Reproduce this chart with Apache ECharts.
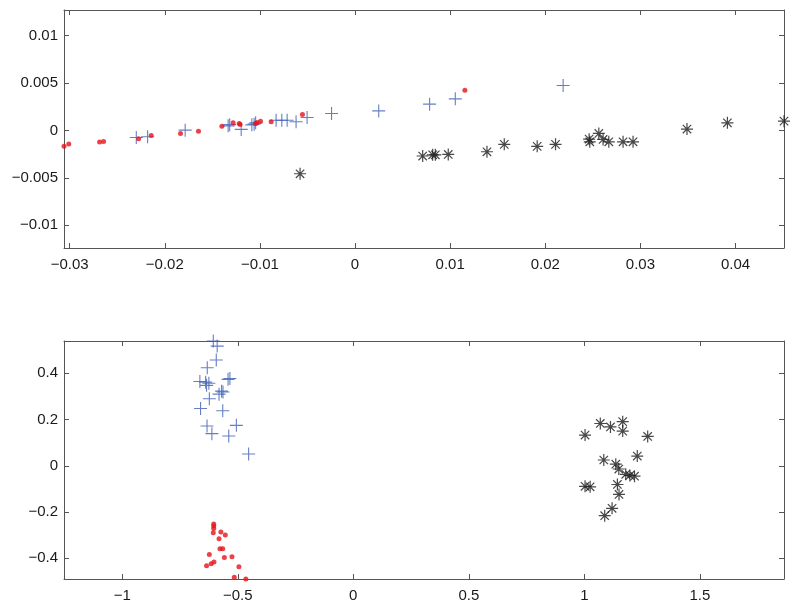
<!DOCTYPE html>
<html><head><meta charset="utf-8">
<script src="https://cdn.jsdelivr.net/npm/echarts@6/dist/echarts.min.js"></script>
<style>html,body{margin:0;padding:0;background:#fff}#c{width:800px;height:610px}</style>
</head><body><div id="c"></div>
<script>
// ---- Top panel data ----
const topRed = [[-0.0306,-0.00166],[-0.0301,-0.00144],[-0.02686,-0.00123],[-0.02644,-0.00116],[-0.02276,-0.00088],[-0.02143,-0.00053],[-0.01835,-0.00032],[-0.01646,-0.0001],[-0.0140,0.00045],[-0.01282,0.0008],[-0.01218,0.00074],[-0.01208,0.00063],[-0.01047,0.00074],[-0.0103,0.00084],[-0.00994,0.00098],[-0.00882,0.00091],[-0.00553,0.00168],[0.01155,0.00424]];
const topBlue = [[-0.0230,-0.00074],[-0.02181,-0.00067],[-0.01786,0.00003],[-0.01334,0.00048],[-0.01318,0.00061],[-0.01197,0.00011],[-0.01085,0.00059],[-0.01061,0.00066],[-0.01045,0.0008],[-0.0083,0.00108],[-0.0077,0.00108],[-0.00714,0.00108],[-0.0062,0.00091],[-0.00504,0.00137],[-0.00247,0.00179],[0.00249,0.00206],[0.00784,0.00277],[0.01054,0.00333],[0.02188,0.00474]];
const topBlack = [[-0.00578,-0.00457],[0.00711,-0.0027],[0.00816,-0.00257],[0.00844,-0.00257],[0.0098,-0.00253],[0.01387,-0.00225],[0.01569,-0.00147],[0.01915,-0.00168],[0.02108,-0.00147],[0.02461,-0.00092],[0.02468,-0.0012],[0.02563,-0.00032],[0.02608,-0.00095],[0.02668,-0.0012],[0.02818,-0.0012],[0.02923,-0.0012],[0.0349,0.00014],[0.03915,0.0008],[0.0451,0.00098]];
const topXTicks = [-0.03,-0.02,-0.01,0,0.01,0.02,0.03,0.04];
const topYTicks = [-0.01,-0.005,0,0.005,0.01];
const topXRange = [-0.0306, 0.0451];
const topYRange = [-0.0124, 0.0127];

// ---- Bottom panel data ----
const botBlue = [[-0.606,0.540],[-0.589,0.518],[-0.593,0.458],[-0.632,0.424],[-0.664,0.365],[-0.639,0.362],[-0.625,0.357],[-0.635,0.348],[-0.542,0.374],[-0.534,0.378],[-0.570,0.323],[-0.564,0.319],[-0.581,0.310],[-0.623,0.290],[-0.661,0.248],[-0.565,0.238],[-0.633,0.172],[-0.612,0.139],[-0.506,0.175],[-0.539,0.129],[-0.453,0.051]];
const botRed = [[-0.604,-0.252],[-0.604,-0.261],[-0.604,-0.271],[-0.606,-0.290],[-0.573,-0.287],[-0.554,-0.300],[-0.581,-0.316],[-0.577,-0.359],[-0.565,-0.359],[-0.623,-0.384],[-0.558,-0.397],[-0.525,-0.394],[-0.635,-0.433],[-0.615,-0.424],[-0.603,-0.416],[-0.495,-0.437],[-0.515,-0.482],[-0.465,-0.490]];
const botBlack = [[1.003,0.133],[1.069,0.183],[1.113,0.168],[1.166,0.191],[1.166,0.150],[1.274,0.127],[1.229,0.042],[1.084,0.025],[1.136,0.007],[1.149,-0.014],[1.179,-0.037],[1.197,-0.042],[1.217,-0.045],[1.003,-0.089],[1.025,-0.091],[1.143,-0.081],[1.150,-0.124],[1.120,-0.184],[1.088,-0.216]];
const botXTicks = [-1,-0.5,0,0.5,1,1.5];
const botYTicks = [-0.4,-0.2,0,0.2,0.4];
const botXRange = [-1.252, 1.864];
const botYRange = [-0.490, 0.540];

const AX = '#555';
const FONT = {fontFamily:'"Liberation Sans", Arial, sans-serif', fontSize:15, color:'#1a1a1a'};
const fmt = v => String(v).replace('-', '\u2212');

function mkX(grid, range, ticks, pos, labels) {
  return {type:'value', gridIndex:grid, position:pos, min:range[0], max:range[1],
    axisLine:{show:true, onZero:false, lineStyle:{color:AX, width:1}},
    axisTick:{show:true, inside:true, length:5, customValues:ticks, lineStyle:{color:AX}},
    axisLabel:{show:labels, customValues:ticks, formatter:fmt, margin:9, ...FONT},
    splitLine:{show:false}};
}
function mkY(grid, range, ticks, pos, labels) {
  return {type:'value', gridIndex:grid, position:pos, min:range[0], max:range[1],
    axisLine:{show:true, onZero:false, lineStyle:{color:AX, width:1}},
    axisTick:{show:true, inside:true, length:5, customValues:ticks, lineStyle:{color:AX}},
    axisLabel:{show:labels, customValues:ticks, formatter:fmt, margin:6, ...FONT},
    splitLine:{show:false}};
}

const PLUS = 'path://M0,5L10,5M5,0L5,10';
const STAR = 'path://M0,5L10,5M5,0L5,10M1.5,1.5L8.5,8.5M8.5,1.5L1.5,8.5';

function redS(x,y,data){return {type:'scatter',xAxisIndex:x,yAxisIndex:y,data,clip:false,symbol:'circle',symbolSize:5,itemStyle:{color:'#e8121c'},silent:true};}
function blueS(x,y,data){return {type:'scatter',xAxisIndex:x,yAxisIndex:y,data,clip:false,symbol:PLUS,symbolSize:13,itemStyle:{color:'none',borderColor:'#3f5fb5',borderWidth:1.1},silent:true};}
function blackS(x,y,data){return {type:'scatter',xAxisIndex:x,yAxisIndex:y,data,clip:false,symbol:STAR,symbolSize:12,itemStyle:{color:'none',borderColor:'#1a1a1a',borderWidth:1.2},silent:true};}

const chart = echarts.init(document.getElementById('c'), null, {renderer:'canvas'});
chart.setOption({
  animation:false,
  backgroundColor:'#fff',
  grid:[
    {left:64, top:10, width:720, height:238, show:false},
    {left:64, top:341, width:720, height:238, show:false}
  ],
  xAxis:[
    mkX(0, topXRange, topXTicks, 'bottom', true),
    mkX(0, topXRange, topXTicks, 'top', false),
    mkX(1, botXRange, botXTicks, 'bottom', true),
    mkX(1, botXRange, botXTicks, 'top', false)
  ],
  yAxis:[
    mkY(0, topYRange, topYTicks, 'left', true),
    mkY(0, topYRange, topYTicks, 'right', false),
    mkY(1, botYRange, botYTicks, 'left', true),
    mkY(1, botYRange, botYTicks, 'right', false)
  ],
  series:[
    blueS(0,0,topBlue), redS(0,0,topRed), blackS(0,0,topBlack),
    blueS(2,2,botBlue), redS(2,2,botRed), blackS(2,2,botBlack)
  ]
});
</script></body></html>
